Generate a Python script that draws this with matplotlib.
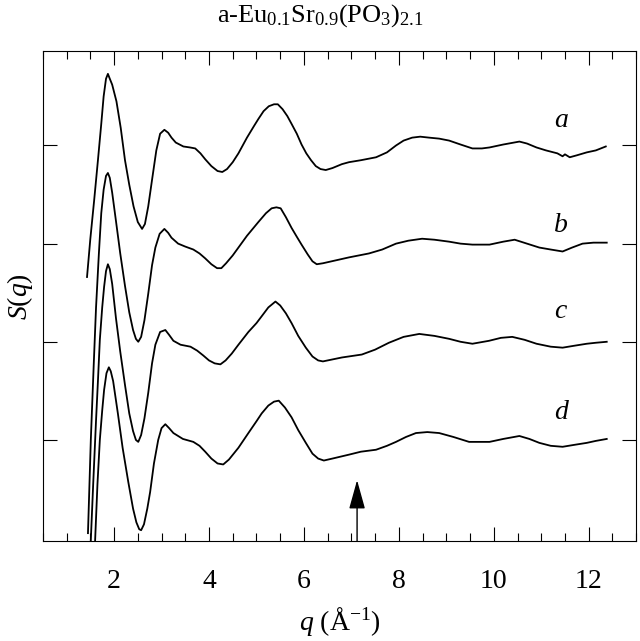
import matplotlib
matplotlib.use("Agg")
import matplotlib.pyplot as plt
from matplotlib.ticker import MultipleLocator, FixedLocator

plt.rcParams["font.family"] = ["Liberation Serif", "DejaVu Serif"]
plt.rcParams["mathtext.fontset"] = "custom"
plt.rcParams["mathtext.rm"] = "Liberation Serif"
plt.rcParams["mathtext.it"] = "Liberation Serif:italic"

# S(q) curves; each is shifted up by its offset
q_a = [1.43, 1.50, 1.58, 1.66, 1.73, 1.78, 1.83, 1.87, 1.91, 1.96, 2.05, 2.14,
       2.23, 2.32, 2.41, 2.50, 2.59, 2.65, 2.72, 2.80, 2.89, 2.97, 3.06, 3.14,
       3.21, 3.30, 3.46, 3.60, 3.71, 3.82, 3.92, 4.05, 4.18, 4.28, 4.38, 4.50,
       4.62, 4.80, 4.95, 5.04, 5.15, 5.26, 5.37, 5.45, 5.55, 5.65, 5.74, 5.85,
       5.95, 6.05, 6.15, 6.25, 6.35, 6.46, 6.60, 6.80, 6.95, 7.20, 7.52, 7.75,
       7.94, 8.10, 8.28, 8.45, 8.64, 8.85, 9.06, 9.30, 9.55, 9.75, 9.91, 10.20,
       10.54, 10.70, 10.90, 11.10, 11.34, 11.45, 11.50, 11.60, 11.75, 11.96,
       12.15, 12.36]
s_a = [-0.34, 0.05, 0.44, 0.85, 1.22, 1.50, 1.68, 1.73, 1.68, 1.62, 1.45, 1.18,
       0.85, 0.60, 0.38, 0.22, 0.15, 0.20, 0.38, 0.65, 0.95, 1.12, 1.16, 1.13,
       1.08, 1.03, 0.99, 0.98, 0.97, 0.92, 0.86, 0.79, 0.74, 0.73, 0.76, 0.83,
       0.92, 1.08, 1.20, 1.27, 1.35, 1.40, 1.42, 1.42, 1.37, 1.30, 1.22, 1.12,
       1.01, 0.92, 0.85, 0.79, 0.76, 0.75, 0.77, 0.81, 0.83, 0.85, 0.88, 0.93,
       1.00, 1.05, 1.08, 1.09, 1.08, 1.07, 1.05, 1.01, 0.97, 0.97, 0.98, 1.01,
       1.04, 1.02, 0.98, 0.95, 0.92, 0.89, 0.91, 0.88, 0.90, 0.93,
       0.95, 0.99]

q_b = [1.45, 1.51, 1.57, 1.62, 1.68, 1.73, 1.78, 1.83, 1.87, 1.91, 1.96, 2.04,
       2.13, 2.23, 2.32, 2.40, 2.46, 2.51, 2.57, 2.64, 2.72, 2.80, 2.87, 2.96,
       3.06, 3.14, 3.21, 3.35, 3.50, 3.67, 3.80, 3.92, 4.05, 4.17, 4.26, 4.36,
       4.50, 4.62, 4.80, 5.04, 5.20, 5.32, 5.42, 5.51, 5.62, 5.74, 5.85, 5.95,
       6.08, 6.18, 6.27, 6.40, 6.95, 7.37, 7.65, 7.94, 8.20, 8.49, 8.75, 9.06,
       9.30, 9.55, 9.91, 10.20, 10.44, 10.70, 10.96, 11.20, 11.45, 11.65, 11.87,
       12.10, 12.38]
s_b = [-1.95, -1.00, -0.25, 0.35, 0.90, 1.31, 1.55, 1.69, 1.72, 1.67, 1.52, 1.23,
       0.90, 0.57, 0.30, 0.12, 0.03, 0.00, 0.05, 0.22, 0.49, 0.78, 0.96, 1.10,
       1.15, 1.11, 1.06, 1.00, 0.97, 0.94, 0.90, 0.85, 0.79, 0.75, 0.75, 0.80,
       0.88, 0.96, 1.08, 1.22, 1.31, 1.36, 1.37, 1.36, 1.27, 1.16, 1.07, 0.99,
       0.89, 0.82, 0.79, 0.80, 0.86, 0.90, 0.94, 1.00, 1.03, 1.05, 1.04, 1.02,
       1.00, 0.99, 0.99, 1.02, 1.04, 1.00, 0.96, 0.94, 0.92, 0.96, 1.00,
       1.01, 1.01]

q_c = [1.47, 1.51, 1.56, 1.62, 1.66, 1.70, 1.75, 1.79, 1.83, 1.87, 1.91, 1.96,
       2.04, 2.13, 2.23, 2.32, 2.40, 2.46, 2.51, 2.57, 2.64, 2.72, 2.80, 2.87,
       2.97, 3.08, 3.16, 3.25, 3.40, 3.61, 3.75, 3.88, 4.00, 4.12, 4.24, 4.35,
       4.48, 4.62, 4.83, 5.00, 5.11, 5.25, 5.40, 5.50, 5.62, 5.74, 5.88, 6.04,
       6.18, 6.30, 6.40, 6.80, 7.22, 7.50, 7.79, 8.10, 8.43, 8.75, 9.06, 9.30,
       9.55, 9.90, 10.15, 10.39, 10.65, 10.90, 11.20, 11.45, 11.70, 11.96,
       12.15, 12.38]
s_c = [-1.52, -1.02, -0.45, 0.20, 0.60, 1.02, 1.35, 1.56, 1.72, 1.79, 1.74, 1.59,
       1.24, 0.90, 0.56, 0.27, 0.09, 0.00, -0.02, 0.05, 0.22, 0.48, 0.78, 0.97,
       1.10, 1.12, 1.07, 1.01, 0.97, 0.95, 0.91, 0.86, 0.81, 0.78, 0.77, 0.81,
       0.88, 0.97, 1.10, 1.19, 1.26, 1.35, 1.41, 1.37, 1.29, 1.19, 1.06, 0.94,
       0.85, 0.81, 0.80, 0.84, 0.87, 0.92, 0.99, 1.05, 1.08, 1.06, 1.03, 1.00,
       0.98, 1.01, 1.04, 1.05, 1.02, 0.98, 0.95, 0.94, 0.96, 0.98,
       0.99, 1.00]

q_d = [1.56, 1.60, 1.65, 1.70, 1.75, 1.79, 1.84, 1.89, 1.93, 1.98, 2.08, 2.18,
       2.30, 2.40, 2.47, 2.53, 2.57, 2.63, 2.70, 2.76, 2.84, 2.93, 3.00, 3.08,
       3.16, 3.25, 3.45, 3.67, 3.80, 3.92, 4.05, 4.18, 4.30, 4.42, 4.52, 4.62,
       4.83, 5.00, 5.11, 5.25, 5.37, 5.47, 5.60, 5.74, 5.88, 6.04, 6.18, 6.30,
       6.42, 6.60, 6.95, 7.20, 7.52, 7.75, 7.94, 8.15, 8.36, 8.60, 8.85, 9.15,
       9.48, 9.91, 10.20, 10.54, 10.75, 10.96, 11.20, 11.45, 11.70, 11.96,
       12.15, 12.38]
s_d = [-0.83, -0.03, 0.55, 1.00, 1.30, 1.51, 1.68, 1.74, 1.70, 1.60, 1.27, 0.92,
       0.57, 0.30, 0.16, 0.09, 0.08, 0.14, 0.30, 0.47, 0.76, 1.00, 1.12, 1.16,
       1.12, 1.07, 1.01, 0.98, 0.94, 0.88, 0.81, 0.76, 0.75, 0.80, 0.86, 0.92,
       1.07, 1.19, 1.27, 1.35, 1.39, 1.40, 1.33, 1.23, 1.10, 0.97, 0.86, 0.81,
       0.79, 0.81, 0.85, 0.88, 0.90, 0.94, 0.98, 1.03, 1.07, 1.08, 1.07, 1.03,
       0.98, 0.98, 1.01, 1.04, 1.01, 0.97, 0.94, 0.93, 0.95, 0.97,
       0.99, 1.01]

curves = [(q_a, s_a, 3, "a", 4.25), (q_b, s_b, 2, "b", 3.18),
          (q_c, s_c, 1, "c", 2.31), (q_d, s_d, 0, "d", 1.28)]
label_q = 11.41
arrow_q = 7.12

fig = plt.figure(figsize=(6.4, 6.41), dpi=100)
ax = fig.add_axes([0.067, 0.156, 0.927, 0.764])

for q, s, off, name, ly in curves:
    ax.plot(q, [v + off for v in s], color="black", lw=1.3)
    ax.text(label_q, ly, name, style="italic", fontsize=20,
            ha="center", va="center")

ax.annotate("", xy=(arrow_q, 0.59), xytext=(arrow_q, -0.03),
            arrowprops=dict(arrowstyle="-|>,head_length=0.9,head_width=0.25",
                            mutation_scale=20, lw=1.0, color="black",
                            shrinkA=0, shrinkB=0))

ax.set_xlim(0.5, 13.0)
ax.set_ylim(-0.03, 4.96)
ax.xaxis.set_major_locator(MultipleLocator(2))
ax.xaxis.set_minor_locator(MultipleLocator(0.5))
ax.yaxis.set_major_locator(FixedLocator([1, 2, 3, 4]))
ax.tick_params(which="both", direction="in", top=True, right=True,
               labelleft=False, labelsize=20, pad=20)
ax.tick_params(which="major", length=10, width=0.8)
ax.tick_params(which="minor", length=6, width=0.8)
for sp in ax.spines.values():
    sp.set_linewidth(0.8)

ax.set_xlabel(r"$q$ ($\mathrm{\AA}^{-1}$)", fontsize=20, labelpad=8)
ax.set_ylabel(r"$S(q)$", fontsize=20, labelpad=6)
fig.text(0.5, 0.975, r"a-Eu$_{0.1}$Sr$_{0.9}$(PO$_3$)$_{2.1}$",
         fontsize=19, ha="center", va="center")

plt.savefig("out.png", dpi=100)
